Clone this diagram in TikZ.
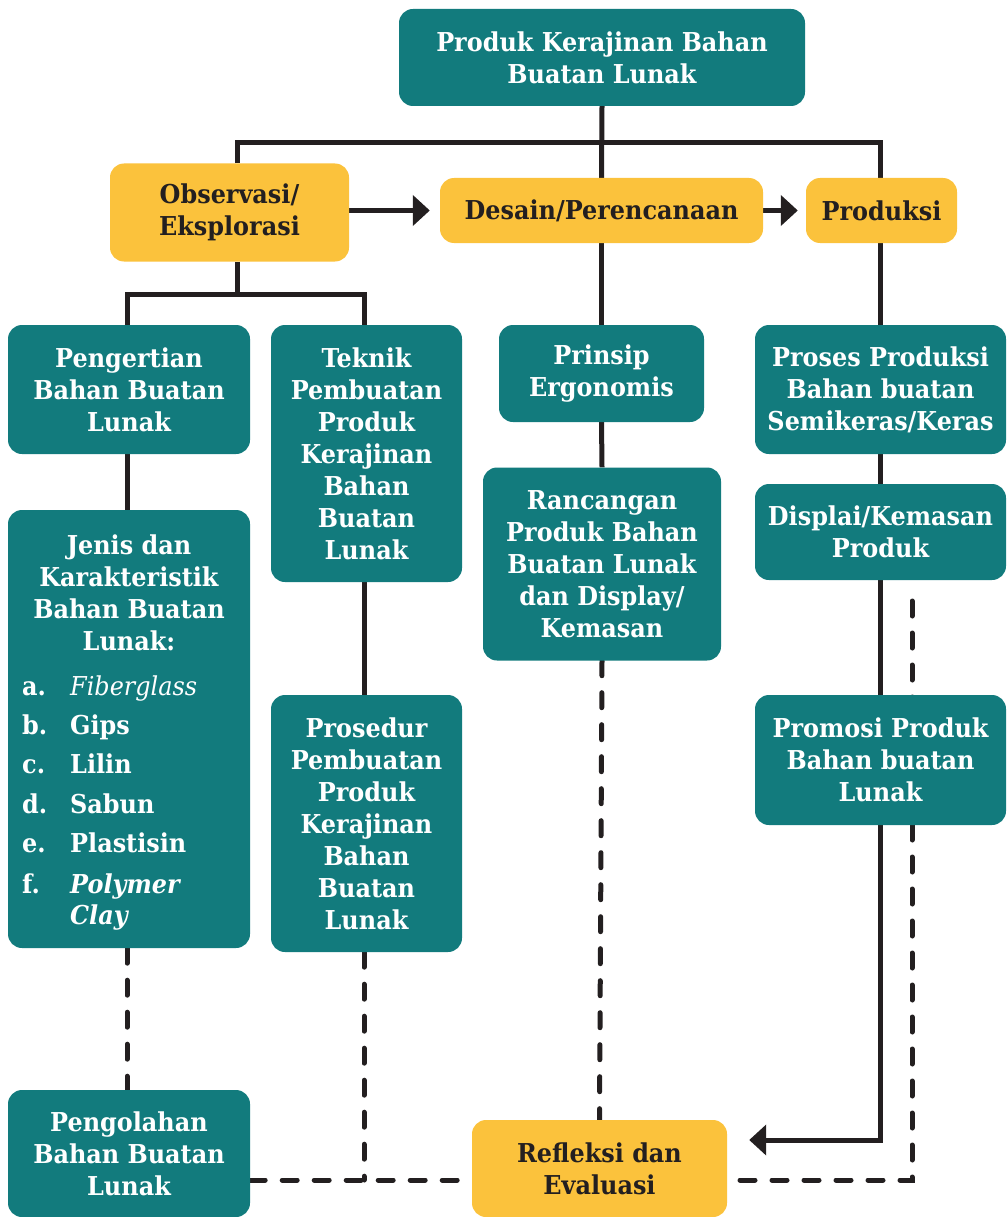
\documentclass[tikz,border=0pt]{standalone}
\usepackage{fontspec}
\setmainfont{DejaVu Serif}[FakeStretch=0.92]
\usetikzlibrary{arrows.meta,backgrounds}
\definecolor{teal1}{HTML}{127B7D}
\definecolor{yel}{HTML}{FBC23C}
\definecolor{ink}{HTML}{231F20}
\tikzset{sz/.style 2 args={minimum width=#1pt, minimum height=#2pt}}
\begin{document}
\begin{tikzpicture}[x=1pt,y=-1pt,
 box/.style={rounded corners=14pt, inner sep=0pt, align=center, font=\fontsize{26}{32}\selectfont\bfseries},
 tbox/.style={box, fill=teal1, text=white},
 ybox/.style={box, fill=yel, text=ink},
 ln/.style={draw=ink, line width=5pt},
 dsh/.style={ln, dash pattern=on 15pt off 17pt, line cap=round},
 arr/.style={ln, -{Triangle[length=17pt,width=30pt]}},
 lst/.style={text=white, inner sep=0pt, font=\fontsize{26}{32}\selectfont\bfseries}
]
\useasboundingbox (0,0) rectangle (1008,1217);

\node[tbox, sz={406}{97}] (top) at (602,57.5) {Produk Kerajinan Bahan\\Buatan Lunak};
\node[ybox, sz={239}{98}] (obs) at (229.5,212.5) {Observasi/\\Eksplorasi};
\node[ybox, sz={323}{65}] (des) at (601.5,210.5) {Desain/Perencanaan};
\node[ybox, sz={151}{65}] (prod) at (881.5,210.5) {Produksi};

\node[tbox, sz={242}{129}] (peng) at (129,389.5) {Pengertian\\Bahan Buatan\\Lunak};
\node[tbox, sz={191}{257}] (tek) at (366.5,453.5) {Teknik\\Pembuatan\\Produk\\Kerajinan\\Bahan\\Buatan\\Lunak};
\node[tbox, sz={205}{97}] (prin) at (601.5,373.5) {Prinsip\\Ergonomis};
\node[tbox, sz={251}{129}] (pros) at (880.5,389.5) {Proses Produksi\\Bahan buatan\\Semikeras/Keras};

\node[tbox, sz={242}{438}] (jenis) at (129,729) {};
\node[lst, align=center] (jh) at (129,593) {Jenis dan\\Karakteristik\\Bahan Buatan\\Lunak:};
\node[lst, anchor=mid west] (la) at (22,693) {a.};
\node[lst, anchor=mid west] (lb) at (22,732) {b.};
\node[lst, anchor=mid west] (lc) at (22,771) {c.};
\node[lst, anchor=mid west] (ld) at (22,811) {d.};
\node[lst, anchor=mid west] (le) at (22,850) {e.};
\node[lst, anchor=mid west] (lf) at (22,891) {f.};
\node[lst, anchor=mid west] (ia) at (70,693) {\mdseries\itshape Fiberglass};
\node[lst, anchor=mid west] (ib) at (70,732) {Gips};
\node[lst, anchor=mid west] (ic) at (70,771) {Lilin};
\node[lst, anchor=mid west] (id) at (70,811) {Sabun};
\node[lst, anchor=mid west] (ie) at (70,850) {Plastisin};
\node[lst, anchor=mid west] (if) at (70,891) {\itshape Polymer};
\node[lst, anchor=mid west] (ig) at (70,922) {\itshape Clay};

\node[tbox, sz={238}{193}] (ranc) at (602,564) {Rancangan\\Produk Bahan\\Buatan Lunak\\dan Display/\\Kemasan};
\node[tbox, sz={251}{96}] (disp) at (880.5,532) {Displai/Kemasan\\Produk};
\node[tbox, sz={191}{257}] (prosd) at (366.5,823.5) {Prosedur\\Pembuatan\\Produk\\Kerajinan\\Bahan\\Buatan\\Lunak};
\node[tbox, sz={251}{130}] (promo) at (880.5,760) {Promosi Produk\\Bahan buatan\\Lunak};
\node[tbox, sz={242}{127}] (pengol) at (129,1153.5) {Pengolahan\\Bahan Buatan\\Lunak};
\node[ybox, sz={255}{97}] (refl) at (599.5,1168.5) {Refleksi dan\\Evaluasi};

\coordinate (hl) at (237,143);
\coordinate (hr) at (880,143);
\coordinate (ol) at (127,294);
\coordinate (oc) at (237,294);
\coordinate (or) at (364,294);
\coordinate (pb) at (880,1140);
\coordinate (dtop) at (912,601);
\coordinate (dbot) at (912,1180);
\coordinate (pd) at (364,1180);

\begin{scope}[on background layer]
\draw[ln] (top.south) -- (des.north);
\draw[ln] (hl |- obs.north) -- (hl) -- (hr) -- (hr |- prod.north);
\draw[arr, shorten >=10pt] (obs.east |- des.west) -- (des.west);
\draw[arr, shorten >=8pt] (des.east) -- (prod.west);
\draw[ln] (des.south) -- (prin.north);
\draw[ln] (oc |- obs.south) -- (oc);
\draw[ln] (ol |- peng.north) -- (ol) -- (or) -- (or |- tek.north);
\draw[ln] (ol |- peng.south) -- (ol |- jenis.north);
\draw[ln] (or |- tek.south) -- (or |- prosd.north);
\draw[ln] (prin.south) -- (ranc.north);
\draw[ln] (hr |- prod.south) -- (hr |- pros.north);
\draw[ln] (hr |- pros.south) -- (hr |- disp.north);
\draw[ln] (hr |- disp.south) -- (hr |- promo.north);
\draw[arr, shorten >=22pt] (hr |- promo.south) -- (pb) -- (pb -| refl.east);
\draw[dsh] (ol |- jenis.south) -- (ol |- pengol.north);
\draw[dsh] (or |- prosd.south) -- (pd);
\draw[dsh] (ranc.south) -- (refl.north);
\draw[dsh] (dtop) -- (dbot) -- (dbot -| refl.east);
\draw[dsh] (pengol.east |- dbot) -- (dbot -| refl.west);
\end{scope}
\end{tikzpicture}
\end{document}
